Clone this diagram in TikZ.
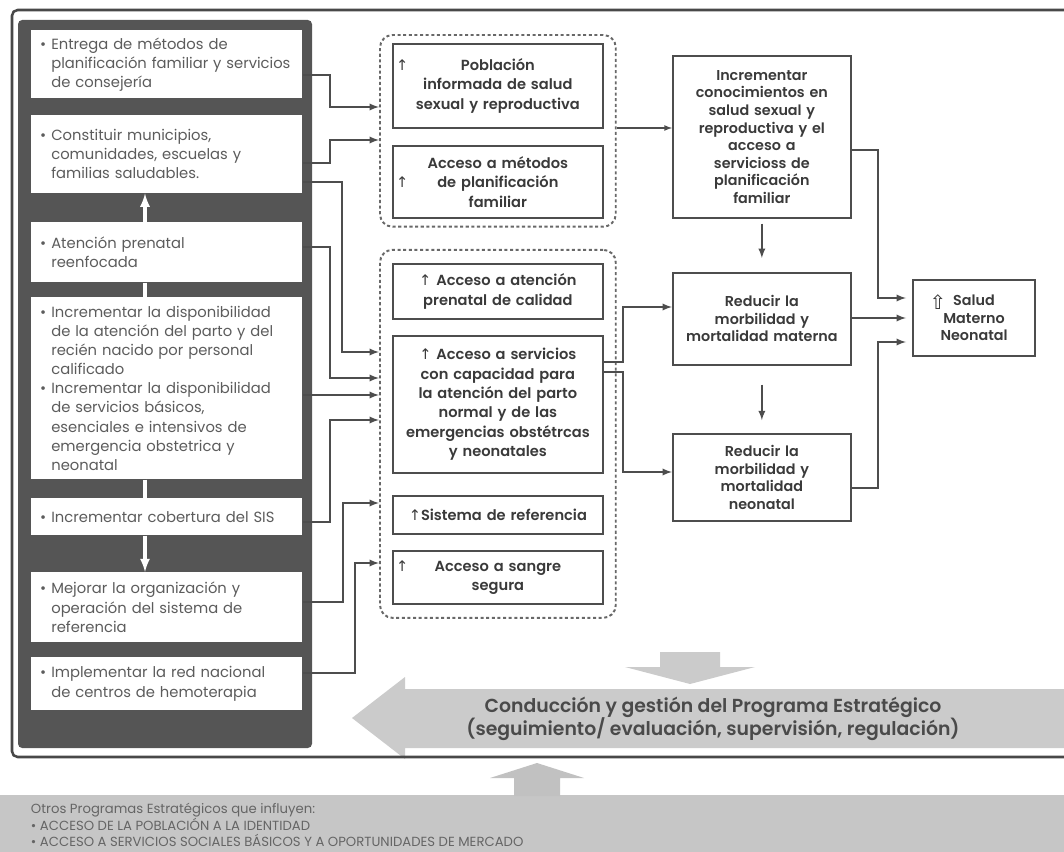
\documentclass[tikz,border=0pt]{standalone}
\usepackage{fontspec}
\setmainfont{Poppins}
\newfontfamily\medfont{Poppins SemiBold}
\newfontfamily\symfont{DejaVu Sans}
\usetikzlibrary{fit}

\definecolor{framegray}{HTML}{484848}
\definecolor{panelgray}{HTML}{555555}
\definecolor{linegray}{HTML}{4D4D4D}
\definecolor{textgray}{HTML}{3A3A3A}
\definecolor{lefttext}{HTML}{5C5C5C}
\definecolor{bandgray}{HTML}{C6C6C6}
\definecolor{arrowgray}{HTML}{CBCBCB}
\definecolor{bandtext}{HTML}{4A4A4A}

\newcommand{\lfont}{\fontsize{10.5}{13.6}\selectfont}
\newcommand{\mfont}{\medfont\fontsize{10.4}{13.8}\selectfont}
\newcommand{\rfont}{\medfont\fontsize{10.2}{12.5}\selectfont}
\newcommand{\cfont}{\medfont\fontsize{13.4}{16.5}\selectfont}
\newcommand{\ofont}{\fontsize{9.4}{10.9}\selectfont}

\newcommand{\upar}{{\symfont ↑}}
\newcommand{\upline}[1]{\upar\hskip 0pt plus 1fill #1\hskip 0pt plus 1fill\phantom{\upar}}
\newcommand{\itm}[1]{\leftskip=0.95em\noindent\llap{\textbullet\hspace{0.35em}}#1\par}

\begin{document}
\begin{tikzpicture}[x=0.025cm, y=-0.025cm,
    lbox/.style={fill=white, anchor=north west, inner xsep=0.15cm, text width=6.475cm,
      align=left, font=\lfont, text=lefttext},
    mbox/.style={draw=linegray, line width=1.2pt, fill=white, anchor=north west,
      inner xsep=0.08cm, text width=5.09cm, align=center, font=\mfont, text=textgray},
    rbox/.style={draw=linegray, line width=1.2pt, fill=white, anchor=north west,
      inner xsep=0.08cm, text width=4.29cm, align=center, font=\rfont, text=textgray},
    grp/.style={draw=linegray!85, line width=1.4pt, dash pattern=on 2.2pt off 1.8pt,
      rounded corners=9pt, inner xsep=0.3cm},
    conn/.style={->, >=latex, draw=linegray, line width=1.3pt},
    warrow/.style={draw=white, line width=2.2pt, >=latex}]

  \useasboundingbox (0,0) rectangle (1064,852);

  % Management band and the arrows round it
  \fill[arrowgray] (352,718) -- (405,677) -- (405,689) -- (1064,689) -- (1064,748)
    -- (405,748) -- (405,759) -- cycle;
  \fill[arrowgray] (660,652) -- (720,652) -- (720,667) -- (755,667) -- (690,684)
    -- (625,667) -- (660,667) -- cycle;
  \fill[bandgray] (0,795) rectangle (1064,852);
  \fill[arrowgray!95!black] (537,763) -- (584,778) -- (560,778) -- (560,796)
    -- (514,796) -- (514,778) -- (490,778) -- cycle;
  \node[font=\cfont, text=bandtext, align=center] (cond) at (713,719)
    {Conducción y gestión del Programa Estratégico\\(seguimiento/ evaluación, supervisión, regulación)};
  \node[anchor=north west, inner ysep=0pt, font=\ofont, text=bandtext!85, align=left] (otros) at (26,803)
    {Otros Programas Estratégicos que influyen:\\
     • ACCESO DE LA POBLACIÓN A LA IDENTIDAD\\
     • ACCESO A SERVICIOS SOCIALES BÁSICOS Y A OPORTUNIDADES DE MERCADO};

  % Outer frame and the dark panel of the left column
  \draw[framegray, line width=1.8pt, rounded corners=4pt]
    (1064,10) -- (12,10) -- (12,757) -- (1064,757);
  \fill[panelgray, rounded corners=3pt] (18,20) rectangle (312,748);

  % Left column: products
  \node[lbox, minimum height=1.7cm] (b1) at (31,30)
    {\itm{Entrega de métodos de\\planificación familiar y servicios\\de consejería}};
  \node[lbox, minimum height=1.95cm] (b2) at (31,115)
    {\itm{Constituir municipios,\\comunidades, escuelas y\\familias saludables.}};
  \node[lbox, minimum height=1.5cm] (b3) at (31,222)
    {\itm{Atención prenatal\\reenfocada}};
  \node[lbox, minimum height=4.55cm] (b4) at (31,297)
    {\itm{Incrementar la disponibilidad\\de la atención del parto y del\\recién nacido por personal\\calificado}
     \itm{Incrementar la disponibilidad\\de servicios básicos,\\esenciales e intensivos de\\emergencia obstetrica y\\neonatal}};
  \node[lbox, minimum height=0.925cm] (b5) at (31,498)
    {\itm{Incrementar cobertura del SIS}};
  \node[lbox, minimum height=1.75cm] (b6) at (31,572)
    {\itm{Mejorar la organización y\\operación del sistema de\\referencia}};
  \node[lbox, minimum height=1.325cm] (b7) at (31,657)
    {\itm{Implementar la red nacional\\de centros de hemoterapia}};

  % White arrows inside the panel
  \draw[warrow, ->] (b3.north -| 145,0) -- (b2.south -| 145,0);
  \draw[warrow] (b3.south -| 145,0) -- (b4.north -| 145,0);
  \draw[warrow] (b4.south -| 145,0) -- (b5.north -| 145,0);
  \draw[warrow, ->] (b5.south -| 145,0) -- (b6.north -| 145,0);

  % Middle column: immediate results
  \node[mbox, minimum height=2.1cm] (m1) at (392,43)
    {\upline{Población}\\informada de salud\\sexual y reproductiva};
  \node[mbox, minimum height=1.8cm] (m2) at (392,145)
    {Acceso a métodos\\\upline{de planificación}\\familiar};
  \node[mbox, minimum height=1.375cm] (m3) at (392,263)
    {\upar\ Acceso a atención\\prenatal de calidad};
  \node[mbox, minimum height=3.425cm] (m4) at (392,335)
    {\upar\ Acceso a servicios\\con capacidad para\\la atención del parto\\normal y de las\\emergencias obstétrcas\\y neonatales};
  \node[mbox, minimum height=0.95cm] (m5) at (392,495)
    {\upar Sistema de referencia};
  \node[mbox, minimum height=1.325cm] (m6) at (392,550)
    {\upline{Acceso a sangre}\\segura};
  \node[grp, fit=(m1)(m2), inner ysep=0.2cm] (g1) {};
  \node[grp, fit=(m3)(m6), inner ysep=0.33cm] (g2) {};

  % Right column: intermediate and final results
  \node[rbox, minimum height=4.05cm] (r1) at (672,55)
    {Incrementar\\conocimientos en\\salud sexual y\\reproductiva y el\\acceso a\\servicioss de\\planificación\\familiar};
  \node[rbox, minimum height=2.3cm] (r2) at (672,272)
    {Reducir la\\morbilidad y\\mortalidad materna};
  \node[rbox, minimum height=2.175cm] (r3) at (672,433)
    {Reducir la\\morbilidad y\\mortalidad\\neonatal};
  \node[rbox, text width=2.9cm, minimum height=1.9cm] (r4) at (912,279)
    {\llap{\raisebox{-0.5ex}{\symfont\fontsize{14}{14}\selectfont ⇧}\hspace{0.5em}}Salud\\Materno\\Neonatal};

  % Left column to the groups of results
  \foreach \src/\sy/\vx/\grp/\ty in {b1/75/330/g1/107, b2/163/330/g1/140,
      b2/182/342/g2/352, b3/247/330/g2/378, b4/395/330/g2/395,
      b5/522/330/g2/420, b6/602/343/g2/503, b7/673/355/g2/563}
    \draw[conn] (\src.east |- 0,\sy) -- (\vx,\sy) |- (\grp.west |- 0,\ty);

  % Middle column to the right column
  \draw[conn, line width=0.9pt] (g1.east |- 0,128) -- (r1.west |- 0,128);
  \draw[conn] (m4.east |- 0,362) -- (623,362) |- (r2.west |- 0,307);
  \draw[conn] (m4.east |- 0,372) -- (623,372) |- (r3.west |- 0,472);

  % Towards the final result
  \draw[conn, shorten <=0.12cm, shorten >=0.35cm] (r1.south) -- (r2.north);
  \draw[conn, shorten <=0.47cm, shorten >=0.32cm] (r2.south) -- (r3.north);
  \draw[conn, shorten >=0.15cm] (r1.east |- 0,150) -- (878,150) |- (r4.west |- 0,298);
  \draw[conn, shorten >=0.15cm] (r2.east |- 0,318) -- (r4.west |- 0,318);
  \draw[conn, shorten >=0.15cm] (r3.east |- 0,488) -- (878,488) |- (r4.west |- 0,342);
\end{tikzpicture}
\end{document}
